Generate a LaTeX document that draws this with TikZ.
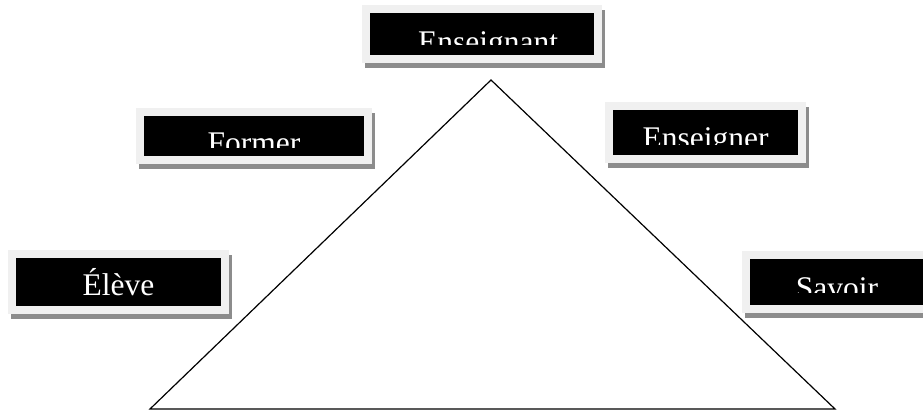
\documentclass[tikz,border=0pt]{standalone}
\usepackage{fontspec}
\setmainfont{Liberation Serif}
\usetikzlibrary{shadows}
\definecolor{framegray}{HTML}{F0F0F0}
\definecolor{shadowgray}{HTML}{8C8C8C}
\tikzstyle{wordbox} = [rectangle, fill=black, draw=framegray, line width=8pt, drop shadow={shadow xshift=3pt, shadow yshift=-5pt, fill=shadowgray, draw=shadowgray, line width=8pt, opacity=1}]
\tikzstyle{boxtext} = [text=white, font=\fontsize{31.5}{36}\selectfont, inner sep=0pt, anchor=base]
\begin{document}
\begin{tikzpicture}[x=1pt, y=-1pt]
        \useasboundingbox (0,0) rectangle (923,414);
        \tikzset{edge/.style={draw=black, line width=1.2pt, line join=miter}}
        \coordinate (apex) at (491,80);
        \coordinate (baseL) at (150,409);
        \coordinate (baseR) at (835,409);
        \draw [edge] (apex) -- (baseR) -- (baseL) -- cycle;

        \node (enseignant) [wordbox, minimum width=232pt, minimum height=50pt] at (482,34) {};
        \node (former) [wordbox, minimum width=228pt, minimum height=48pt] at (254,136) {};
        \node (enseigner) [wordbox, minimum width=193pt, minimum height=53pt] at (705.5,132.5) {};
        \node (eleve) [wordbox, minimum width=213pt, minimum height=56pt] at (118.5,282) {};
        \node (savoir) [wordbox, minimum width=182pt, minimum height=54pt] at (837,282) {};

        \begin{scope}
            \clip (enseignant.north west) rectangle (594,45);
            \node (enseignantText) [boxtext] at (488,53) {Enseignant};
        \end{scope}
        \begin{scope}
            \clip (former.north west) rectangle (364,148);
            \node (formerText) [boxtext] at (254,154) {Former};
        \end{scope}
        \begin{scope}
            \clip (enseigner.north west) rectangle (798,145);
            \node (enseignerText) [boxtext] at (705.5,149) {Enseigner};
        \end{scope}
        \node (eleveText) [boxtext] at (118.5,295) {Élève};
        \begin{scope}
            \clip (savoir.north west) rectangle (924,292);
            \node (savoirText) [boxtext] at (837,298) {Savoir};
        \end{scope}
\end{tikzpicture}
\end{document}
